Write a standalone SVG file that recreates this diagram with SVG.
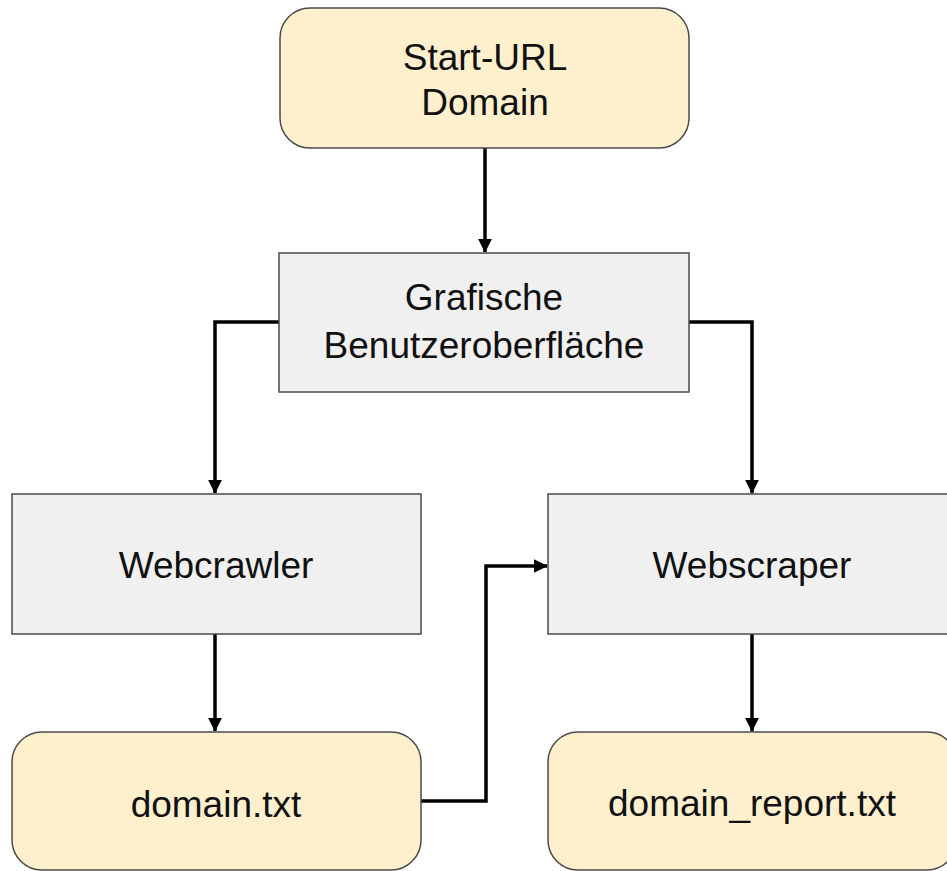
<svg xmlns="http://www.w3.org/2000/svg" width="947" height="871" viewBox="0 0 947 871">
<style>
.y{fill:#FFF0CD;stroke:#4a4a4a;stroke-width:1.5}
.g{fill:#F0F0F0;stroke:#4a4a4a;stroke-width:1.5}
.t{font-family:"Liberation Sans",Arial,sans-serif;font-size:37px;fill:#111;text-anchor:middle}
.c{fill:none;stroke:#000;stroke-width:3.5;marker-end:url(#ah)}
</style>
<defs>
<marker id="ah" markerWidth="5" markerHeight="5" refX="3.8" refY="2.5" orient="auto" markerUnits="strokeWidth">
<path d="M0,0.5 L4,2.5 L0,4.5 Z" fill="#000"/>
</marker>
</defs>
<rect width="947" height="871" fill="#fff"/>
<g id="connectors">
<path class="c" d="M485,148 V252"/>
<path class="c" d="M279,322 H215 V493"/>
<path class="c" d="M689,322 H752 V493"/>
<path class="c" d="M215,634 V731"/>
<path class="c" d="M421,801 H486 V566 H547"/>
<path class="c" d="M752,634 V731"/>
</g>
<g id="start">
<rect class="y" x="280" y="8" width="409" height="140" rx="30"/>
<text class="t" x="485" y="70">Start-URL</text>
<text class="t" x="485" y="115">Domain</text>
</g>
<g id="gui">
<rect class="g" x="279" y="253" width="410" height="139"/>
<text class="t" x="484" y="310">Grafische</text>
<text class="t" x="484" y="358">Benutzeroberfläche</text>
</g>
<g id="webcrawler">
<rect class="g" x="12" y="494" width="409" height="140"/>
<text class="t" x="216" y="578">Webcrawler</text>
</g>
<g id="webscraper">
<rect class="g" x="548" y="494" width="409" height="140"/>
<text class="t" x="752" y="578">Webscraper</text>
</g>
<g id="domain_txt">
<rect class="y" x="12" y="732" width="409" height="138" rx="30"/>
<text class="t" x="216" y="817">domain.txt</text>
</g>
<g id="domain_report">
<rect class="y" x="548" y="732" width="409" height="138" rx="30"/>
<text class="t" x="752" y="816">domain_report.txt</text>
</g>
</svg>
